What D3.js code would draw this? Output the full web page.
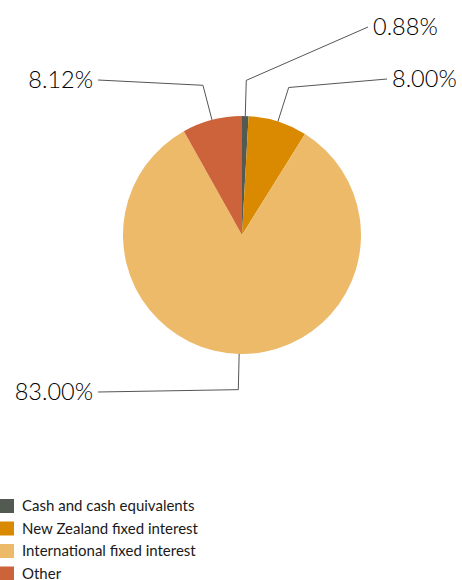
<!DOCTYPE html>
<html>
<head>
<meta charset="utf-8">
<script src="https://cdn.jsdelivr.net/npm/d3@7"></script>
<style>
  body { margin: 0; background: #fff; }
  text { font-family: Lato, "Open Sans", sans-serif; fill: #1a1a1a; }
</style>
</head>
<body>
<script>
const categories = ['Cash and cash equivalents', 'New Zealand fixed interest', 'International fixed interest', 'Other']
const values = [0.88, 8.00, 83.00, 8.12]
const labels = ['0.88%', '8.00%', '83.00%', '8.12%']
const colors = ['#535a52', '#d98a00', '#edba69', '#cd633a']

// where each leader line ends (label anchor), per slice
const labelEnds = [[368, 27], [387, 79], [98, 392], [98, 80]]

const width = 462
const height = 580
const cx = 242
const cy = 235
const radius = 119

const svg = d3.select('body')
  .append('svg')
  .attr('width', width)
  .attr('height', height)

const pie = d3.pie().sort(null).value(d => d)
const arcs = pie(values)

const arc = d3.arc().innerRadius(0).outerRadius(radius)
const edgeArc = d3.arc().innerRadius(radius).outerRadius(radius)
const elbowArc = d3.arc().innerRadius(radius * 1.3).outerRadius(radius * 1.3)

const g = svg.append('g')
  .attr('transform', `translate(${cx},${cy})`)

g.selectAll('path')
  .data(arcs)
  .enter()
  .append('path')
  .attr('d', arc)
  .attr('fill', (d, i) => colors[i])

g.selectAll('polyline')
  .data(arcs)
  .enter()
  .append('polyline')
  .attr('fill', 'none')
  .attr('stroke', '#555')
  .attr('stroke-width', 1)
  .attr('points', (d, i) => {
    const a = edgeArc.centroid(d)
    const b = elbowArc.centroid(d)
    const c = [labelEnds[i][0] - cx, labelEnds[i][1] - cy]
    return [a, b, c].map(p => p.join(',')).join(' ')
  })

svg.selectAll('text.lbl')
  .data(arcs)
  .enter()
  .append('text')
  .attr('class', 'lbl')
  .attr('x', (d, i) => labelEnds[i][0] + (labelEnds[i][0] > cx ? 5 : -5))
  .attr('y', (d, i) => labelEnds[i][1])
  .attr('dy', '0.35em')
  .attr('text-anchor', (d, i) => labelEnds[i][0] > cx ? 'start' : 'end')
  .style('font-size', '23.5px')
  .style('font-weight', 300)
  .style('fill', '#000')
  .text((d, i) => labels[i])

const legend = svg.append('g')
  .attr('transform', 'translate(0,499)')

const item = legend.selectAll('g')
  .data(categories)
  .enter()
  .append('g')
  .attr('transform', (d, i) => `translate(0,${i * 22.5})`)

item.append('rect')
  .attr('width', 14)
  .attr('height', 14)
  .attr('fill', (d, i) => colors[i])

item.append('text')
  .attr('x', 22)
  .attr('y', 7)
  .attr('dy', '0.35em')
  .style('font-size', '15px')
  .text(d => d)
</script>
</body>
</html>
